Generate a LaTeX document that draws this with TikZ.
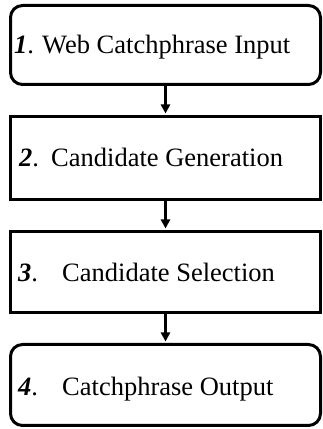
\documentclass[tikz,border=0pt]{standalone}
\usepackage{fontspec}
\setmainfont{Liberation Serif}
\usetikzlibrary{arrows.meta}
\begin{document}
\begin{tikzpicture}[x=1pt,y=1pt,
  stage/.style={draw, line width=3pt, minimum width=310pt, inner sep=0pt},
  roundstage/.style={stage, rounded corners=12pt},
  num/.style={anchor=base west, inner sep=0pt, font=\fontsize{26.5}{31}\selectfont\bfseries\itshape},
  lbl/.style={anchor=base west, inner sep=0pt, font=\fontsize{26.5}{31}\selectfont},
  flow/.style={line width=2.5pt, -{Triangle[width=9pt,length=9pt]}, shorten >=1.5pt}]
\useasboundingbox (0,0) rectangle (323,429);
% the four stages
\node[roundstage, minimum height=79pt] (s1) at (165.5,384) {};
\node[stage, minimum height=83pt] (s2) at (165.5,271) {};
\node[stage, minimum height=81pt] (s3) at (165.5,157) {};
\node[roundstage, minimum height=81pt] (s4) at (165.5,44) {};
% stage texts
\node[num] (n1) at (14,375) {1\textup{\mdseries.}};
\node[lbl] (t1) at (42,375) {Web Catchphrase Input};
\node[num] (n2) at (19,262) {2\textup{\mdseries.}};
\node[lbl] (t2) at (51,262) {Candidate Generation};
\node[num] (n3) at (18,147.5) {3\textup{\mdseries.}};
\node[lbl] (t3) at (62,147.5) {Candidate Selection};
\node[num] (n4) at (18,33) {4\textup{\mdseries.}};
\node[lbl] (t4) at (62,33) {Catchphrase Output};
% connectors
\draw[flow] (s1.south) -- (s2.north);
\draw[flow] (s2.south) -- (s3.north);
\draw[flow] (s3.south) -- (s4.north);
\end{tikzpicture}
\end{document}
